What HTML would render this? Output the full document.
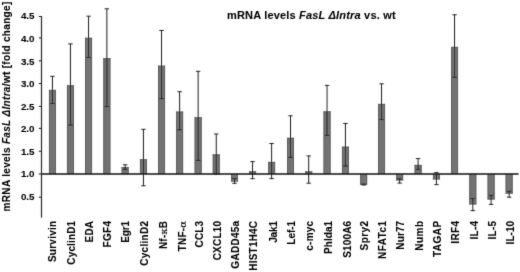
<!DOCTYPE html><html><head><meta charset="utf-8"><style>html,body{margin:0;padding:0;background:#fff;}svg{display:block;}text{font-family:"Liberation Sans",Arial,sans-serif;font-weight:bold;fill:#000;stroke:#000;stroke-width:0.08px;}.g{font-family:"DejaVu Serif",serif;font-weight:normal;}</style></head><body>
<svg width="520" height="272" viewBox="0 0 520 272">
<defs><filter id="bl" x="0" y="0" width="520" height="272" filterUnits="userSpaceOnUse"><feConvolveMatrix order="3" kernelMatrix="0.0113 0.0838 0.0113 0.0838 0.6193 0.0838 0.0113 0.0838 0.0113" edgeMode="duplicate" preserveAlpha="false"/></filter></defs>
<rect width="520" height="272" fill="#fff"/>
<g filter="url(#bl)">
<rect x="48.95" y="89.90" width="7" height="84.10" fill="#737373"/>
<path d="M49.45 89.90V174.00M55.45 89.90V174.00M48.95 90.40H55.95" stroke="#616161" stroke-width="1" fill="none"/>
<rect x="66.95" y="85.30" width="7" height="88.70" fill="#737373"/>
<path d="M67.45 85.30V174.00M73.45 85.30V174.00M66.95 85.80H73.95" stroke="#616161" stroke-width="1" fill="none"/>
<rect x="85.05" y="37.80" width="7" height="136.20" fill="#737373"/>
<path d="M85.55 37.80V174.00M91.55 37.80V174.00M85.05 38.30H92.05" stroke="#616161" stroke-width="1" fill="none"/>
<rect x="103.35" y="58.20" width="7" height="115.80" fill="#737373"/>
<path d="M103.85 58.20V174.00M109.85 58.20V174.00M103.35 58.70H110.35" stroke="#616161" stroke-width="1" fill="none"/>
<rect x="121.65" y="167.10" width="7" height="6.90" fill="#737373"/>
<path d="M122.15 167.10V174.00M128.15 167.10V174.00M121.65 167.60H128.65" stroke="#616161" stroke-width="1" fill="none"/>
<rect x="139.95" y="159.30" width="7" height="14.70" fill="#737373"/>
<path d="M140.45 159.30V174.00M146.45 159.30V174.00M139.95 159.80H146.95" stroke="#616161" stroke-width="1" fill="none"/>
<rect x="158.05" y="65.70" width="7" height="108.30" fill="#737373"/>
<path d="M158.55 65.70V174.00M164.55 65.70V174.00M158.05 66.20H165.05" stroke="#616161" stroke-width="1" fill="none"/>
<rect x="176.10" y="111.60" width="7" height="62.40" fill="#737373"/>
<path d="M176.60 111.60V174.00M182.60 111.60V174.00M176.10 112.10H183.10" stroke="#616161" stroke-width="1" fill="none"/>
<rect x="194.65" y="117.30" width="7" height="56.70" fill="#737373"/>
<path d="M195.15 117.30V174.00M201.15 117.30V174.00M194.65 117.80H201.65" stroke="#616161" stroke-width="1" fill="none"/>
<rect x="212.75" y="154.40" width="7" height="19.60" fill="#737373"/>
<path d="M213.25 154.40V174.00M219.25 154.40V174.00M212.75 154.90H219.75" stroke="#616161" stroke-width="1" fill="none"/>
<rect x="231.00" y="174.00" width="7" height="7.50" fill="#737373"/>
<path d="M231.50 174.00V181.50M237.50 174.00V181.50M231.00 181.00H238.00" stroke="#616161" stroke-width="1" fill="none"/>
<rect x="249.05" y="171.30" width="7" height="2.70" fill="#737373"/>
<path d="M249.55 171.30V174.00M255.55 171.30V174.00M249.05 171.80H256.05" stroke="#616161" stroke-width="1" fill="none"/>
<rect x="268.10" y="161.90" width="7" height="12.10" fill="#737373"/>
<path d="M268.60 161.90V174.00M274.60 161.90V174.00M268.10 162.40H275.10" stroke="#616161" stroke-width="1" fill="none"/>
<rect x="287.00" y="137.80" width="7" height="36.20" fill="#737373"/>
<path d="M287.50 137.80V174.00M293.50 137.80V174.00M287.00 138.30H294.00" stroke="#616161" stroke-width="1" fill="none"/>
<rect x="305.20" y="171.40" width="7" height="2.60" fill="#737373"/>
<path d="M305.70 171.40V174.00M311.70 171.40V174.00M305.20 171.90H312.20" stroke="#616161" stroke-width="1" fill="none"/>
<rect x="323.55" y="111.40" width="7" height="62.60" fill="#737373"/>
<path d="M324.05 111.40V174.00M330.05 111.40V174.00M323.55 111.90H330.55" stroke="#616161" stroke-width="1" fill="none"/>
<rect x="341.95" y="146.70" width="7" height="27.30" fill="#737373"/>
<path d="M342.45 146.70V174.00M348.45 146.70V174.00M341.95 147.20H348.95" stroke="#616161" stroke-width="1" fill="none"/>
<rect x="360.15" y="174.00" width="7" height="10.70" fill="#737373"/>
<path d="M360.65 174.00V184.70M366.65 174.00V184.70M360.15 184.20H367.15" stroke="#616161" stroke-width="1" fill="none"/>
<rect x="378.05" y="103.90" width="7" height="70.10" fill="#737373"/>
<path d="M378.55 103.90V174.00M384.55 103.90V174.00M378.05 104.40H385.05" stroke="#616161" stroke-width="1" fill="none"/>
<rect x="396.15" y="174.00" width="7" height="6.40" fill="#737373"/>
<path d="M396.65 174.00V180.40M402.65 174.00V180.40M396.15 179.90H403.15" stroke="#616161" stroke-width="1" fill="none"/>
<rect x="414.60" y="164.90" width="7" height="9.10" fill="#737373"/>
<path d="M415.10 164.90V174.00M421.10 164.90V174.00M414.60 165.40H421.60" stroke="#616161" stroke-width="1" fill="none"/>
<rect x="432.95" y="174.00" width="7" height="5.40" fill="#737373"/>
<path d="M433.45 174.00V179.40M439.45 174.00V179.40M432.95 178.90H439.95" stroke="#616161" stroke-width="1" fill="none"/>
<rect x="451.05" y="46.90" width="7" height="127.10" fill="#737373"/>
<path d="M451.55 46.90V174.00M457.55 46.90V174.00M451.05 47.40H458.05" stroke="#616161" stroke-width="1" fill="none"/>
<rect x="469.30" y="174.00" width="7" height="30.40" fill="#737373"/>
<path d="M469.80 174.00V204.40M475.80 174.00V204.40M469.30 203.90H476.30" stroke="#616161" stroke-width="1" fill="none"/>
<rect x="487.60" y="174.00" width="7" height="25.50" fill="#737373"/>
<path d="M488.10 174.00V199.50M494.10 174.00V199.50M487.60 199.00H494.60" stroke="#616161" stroke-width="1" fill="none"/>
<rect x="505.65" y="174.00" width="7" height="19.60" fill="#737373"/>
<path d="M506.15 174.00V193.60M512.15 174.00V193.60M505.65 193.10H512.65" stroke="#616161" stroke-width="1" fill="none"/>
<line x1="41" y1="174.0" x2="518.6" y2="174.0" stroke="#111" stroke-width="1.5"/>
<path d="M52.45 76.30V103.50M50.25 76.30H54.65M50.25 103.50H54.65" stroke="#222222" stroke-width="1.0" fill="none"/>
<path d="M70.45 43.90V125.10M68.25 43.90H72.65M68.25 125.10H72.65" stroke="#222222" stroke-width="1.0" fill="none"/>
<path d="M88.55 16.20V57.50M86.35 16.20H90.75M86.35 57.50H90.75" stroke="#222222" stroke-width="1.0" fill="none"/>
<path d="M106.85 8.80V106.60M104.65 8.80H109.05M104.65 106.60H109.05" stroke="#222222" stroke-width="1.0" fill="none"/>
<path d="M125.15 164.80V169.40M122.95 164.80H127.35M122.95 169.40H127.35" stroke="#222222" stroke-width="1.0" fill="none"/>
<path d="M143.45 129.30V185.80M141.25 129.30H145.65M141.25 185.80H145.65" stroke="#222222" stroke-width="1.0" fill="none"/>
<path d="M161.55 30.50V98.60M159.35 30.50H163.75M159.35 98.60H163.75" stroke="#222222" stroke-width="1.0" fill="none"/>
<path d="M179.60 91.70V129.80M177.40 91.70H181.80M177.40 129.80H181.80" stroke="#222222" stroke-width="1.0" fill="none"/>
<path d="M198.15 71.30V160.40M195.95 71.30H200.35M195.95 160.40H200.35" stroke="#222222" stroke-width="1.0" fill="none"/>
<path d="M216.25 134.00V174.00M214.05 134.00H218.45M214.05 174.00H218.45" stroke="#222222" stroke-width="1.0" fill="none"/>
<path d="M234.50 178.50V183.30M232.30 178.50H236.70M232.30 183.30H236.70" stroke="#222222" stroke-width="1.0" fill="none"/>
<path d="M252.55 161.60V178.70M250.35 161.60H254.75M250.35 178.70H254.75" stroke="#222222" stroke-width="1.0" fill="none"/>
<path d="M271.60 143.50V178.60M269.40 143.50H273.80M269.40 178.60H273.80" stroke="#222222" stroke-width="1.0" fill="none"/>
<path d="M290.50 115.80V157.40M288.30 115.80H292.70M288.30 157.40H292.70" stroke="#222222" stroke-width="1.0" fill="none"/>
<path d="M308.70 155.90V183.20M306.50 155.90H310.90M306.50 183.20H310.90" stroke="#222222" stroke-width="1.0" fill="none"/>
<path d="M327.05 85.40V135.40M324.85 85.40H329.25M324.85 135.40H329.25" stroke="#222222" stroke-width="1.0" fill="none"/>
<path d="M345.45 123.50V166.10M343.25 123.50H347.65M343.25 166.10H347.65" stroke="#222222" stroke-width="1.0" fill="none"/>
<path d="M363.65 184.20V185.00M361.45 184.20H365.85M361.45 185.00H365.85" stroke="#222222" stroke-width="1.0" fill="none"/>
<path d="M381.55 83.80V119.60M379.35 83.80H383.75M379.35 119.60H383.75" stroke="#222222" stroke-width="1.0" fill="none"/>
<path d="M399.65 178.80V183.10M397.45 178.80H401.85M397.45 183.10H401.85" stroke="#222222" stroke-width="1.0" fill="none"/>
<path d="M418.10 158.60V169.40M415.90 158.60H420.30M415.90 169.40H420.30" stroke="#222222" stroke-width="1.0" fill="none"/>
<path d="M436.45 172.60V184.60M434.25 172.60H438.65M434.25 184.60H438.65" stroke="#222222" stroke-width="1.0" fill="none"/>
<path d="M454.55 14.80V77.30M452.35 14.80H456.75M452.35 77.30H456.75" stroke="#222222" stroke-width="1.0" fill="none"/>
<path d="M472.80 198.50V210.60M470.60 198.50H475.00M470.60 210.60H475.00" stroke="#222222" stroke-width="1.0" fill="none"/>
<path d="M491.10 195.40V204.40M488.90 195.40H493.30M488.90 204.40H493.30" stroke="#222222" stroke-width="1.0" fill="none"/>
<path d="M509.15 191.30V197.20M506.95 191.30H511.35M506.95 197.20H511.35" stroke="#222222" stroke-width="1.0" fill="none"/>
<line x1="41.5" y1="16.0" x2="41.5" y2="217.6" stroke="#2a2a2a" stroke-width="1.2"/>
<line x1="38.8" y1="16.5" x2="41.5" y2="16.5" stroke="#2a2a2a" stroke-width="1.1"/>
<text x="34.4" y="19.10" font-size="9.8" text-anchor="end" textLength="13.4" lengthAdjust="spacing">4.5</text>
<line x1="38.8" y1="37.9" x2="41.5" y2="37.9" stroke="#2a2a2a" stroke-width="1.1"/>
<text x="34.4" y="42.10" font-size="9.8" text-anchor="end" textLength="13.4" lengthAdjust="spacing">4.0</text>
<line x1="38.8" y1="60.8" x2="41.5" y2="60.8" stroke="#2a2a2a" stroke-width="1.1"/>
<text x="34.4" y="65.10" font-size="9.8" text-anchor="end" textLength="13.4" lengthAdjust="spacing">3.5</text>
<line x1="38.8" y1="83.5" x2="41.5" y2="83.5" stroke="#2a2a2a" stroke-width="1.1"/>
<text x="34.4" y="86.55" font-size="9.8" text-anchor="end" textLength="13.4" lengthAdjust="spacing">3.0</text>
<line x1="38.8" y1="106.4" x2="41.5" y2="106.4" stroke="#2a2a2a" stroke-width="1.1"/>
<text x="34.4" y="109.50" font-size="9.8" text-anchor="end" textLength="13.4" lengthAdjust="spacing">2.5</text>
<line x1="38.8" y1="128.4" x2="41.5" y2="128.4" stroke="#2a2a2a" stroke-width="1.1"/>
<text x="34.4" y="132.35" font-size="9.8" text-anchor="end" textLength="13.4" lengthAdjust="spacing">2.0</text>
<line x1="38.8" y1="151.3" x2="41.5" y2="151.3" stroke="#2a2a2a" stroke-width="1.1"/>
<text x="34.4" y="155.35" font-size="9.8" text-anchor="end" textLength="13.4" lengthAdjust="spacing">1.5</text>
<line x1="38.8" y1="174.0" x2="41.5" y2="174.0" stroke="#2a2a2a" stroke-width="1.1"/>
<text x="34.4" y="177.35" font-size="9.8" text-anchor="end" textLength="13.4" lengthAdjust="spacing">1.0</text>
<line x1="38.8" y1="197.2" x2="41.5" y2="197.2" stroke="#2a2a2a" stroke-width="1.1"/>
<text x="34.4" y="200.00" font-size="9.8" text-anchor="end" textLength="13.4" lengthAdjust="spacing">0.5</text>
<text transform="translate(55.70,220.9) rotate(-90)" font-size="10" text-anchor="end" textLength="41.17" lengthAdjust="spacing">Survivin</text>
<text transform="translate(74.95,220.9) rotate(-90)" font-size="10" text-anchor="end" textLength="43.80" lengthAdjust="spacing">CyclinD1</text>
<text transform="translate(93.10,220.9) rotate(-90)" font-size="10" text-anchor="end" textLength="21.62" lengthAdjust="spacing">EDA</text>
<text transform="translate(111.40,220.9) rotate(-90)" font-size="10" text-anchor="end" textLength="26.66" lengthAdjust="spacing">FGF4</text>
<text transform="translate(129.20,220.9) rotate(-90)" font-size="10" text-anchor="end" textLength="21.93" lengthAdjust="spacing">Egr1</text>
<text transform="translate(147.55,220.9) rotate(-90)" font-size="10" text-anchor="end" textLength="44.90" lengthAdjust="spacing">CyclinD2</text>
<text transform="translate(166.70,220.9) rotate(-90)" font-size="10" text-anchor="end" textLength="28.18" lengthAdjust="spacing">Nf-<tspan class="g">κ</tspan>B</text>
<text transform="translate(185.90,220.9) rotate(-90)" font-size="10" text-anchor="end" textLength="30.45" lengthAdjust="spacing">TNF-<tspan class="g">α</tspan></text>
<text transform="translate(202.55,220.9) rotate(-90)" font-size="10" text-anchor="end" textLength="26.52" lengthAdjust="spacing">CCL3</text>
<text transform="translate(221.00,220.9) rotate(-90)" font-size="10" text-anchor="end" textLength="39.46" lengthAdjust="spacing">CXCL10</text>
<text transform="translate(239.05,220.9) rotate(-90)" font-size="10" text-anchor="end" textLength="47.74" lengthAdjust="spacing">GADD45a</text>
<text transform="translate(257.20,220.9) rotate(-90)" font-size="10" text-anchor="end" textLength="49.86" lengthAdjust="spacing">HIST1H4C</text>
<text transform="translate(276.80,220.9) rotate(-90)" font-size="10" text-anchor="end" textLength="21.95" lengthAdjust="spacing">Jak1</text>
<text transform="translate(294.90,220.9) rotate(-90)" font-size="10" text-anchor="end" textLength="23.81" lengthAdjust="spacing">Lef-1</text>
<text transform="translate(312.80,220.9) rotate(-90)" font-size="10" text-anchor="end" textLength="29.81" lengthAdjust="spacing">c-myc</text>
<text transform="translate(331.70,220.9) rotate(-90)" font-size="10" text-anchor="end" textLength="33.00" lengthAdjust="spacing">Phlda1</text>
<text transform="translate(350.70,220.9) rotate(-90)" font-size="10" text-anchor="end" textLength="36.94" lengthAdjust="spacing">S100A6</text>
<text transform="translate(367.90,220.9) rotate(-90)" font-size="10" text-anchor="end" textLength="29.60" lengthAdjust="spacing">Spry2</text>
<text transform="translate(385.90,220.9) rotate(-90)" font-size="10" text-anchor="end" textLength="38.15" lengthAdjust="spacing">NFATc1</text>
<text transform="translate(404.15,220.9) rotate(-90)" font-size="10" text-anchor="end" textLength="28.76" lengthAdjust="spacing">Nur77</text>
<text transform="translate(422.80,220.9) rotate(-90)" font-size="10" text-anchor="end" textLength="29.84" lengthAdjust="spacing">Numb</text>
<text transform="translate(441.10,220.9) rotate(-90)" font-size="10" text-anchor="end" textLength="36.17" lengthAdjust="spacing">TAGAP</text>
<text transform="translate(459.30,220.9) rotate(-90)" font-size="10" text-anchor="end" textLength="22.77" lengthAdjust="spacing">IRF4</text>
<text transform="translate(477.65,220.9) rotate(-90)" font-size="10" text-anchor="end" textLength="18.68" lengthAdjust="spacing">IL-4</text>
<text transform="translate(496.35,220.9) rotate(-90)" font-size="10" text-anchor="end" textLength="18.68" lengthAdjust="spacing">IL-5</text>
<text transform="translate(513.75,220.9) rotate(-90)" font-size="10" text-anchor="end" textLength="23.54" lengthAdjust="spacing">IL-10</text>
<text transform="translate(10.4,211.4) rotate(-90)" font-size="10" textLength="209.63" lengthAdjust="spacing">mRNA levels <tspan font-style="italic">FasL ΔIntra</tspan>/wt [fold change]</text>
<text x="227.0" y="19.0" font-size="11" textLength="168.60" lengthAdjust="spacing">mRNA levels <tspan font-style="italic">FasL ΔIntra</tspan> vs. wt</text>
</g>
</svg></body></html>
